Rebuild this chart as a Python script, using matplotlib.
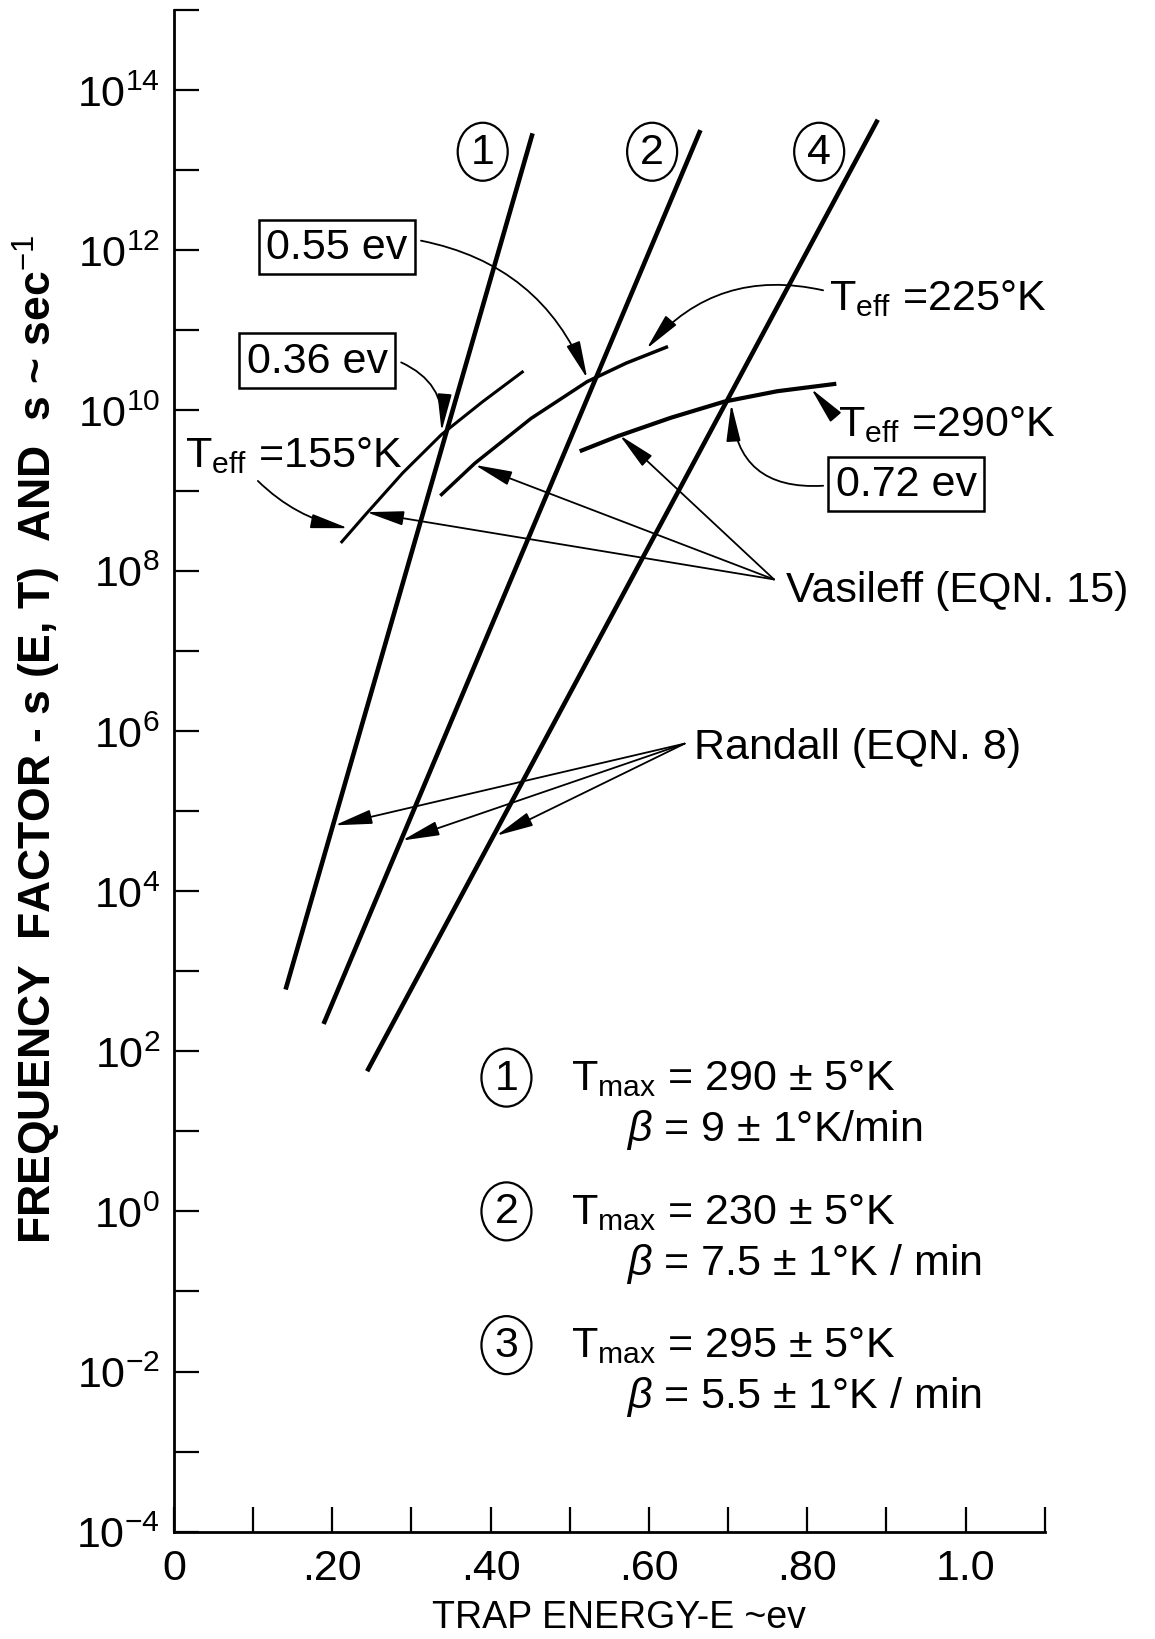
import matplotlib
matplotlib.use('Agg')
import matplotlib.pyplot as plt
import matplotlib.transforms as mtransforms
from matplotlib.patches import Ellipse
import numpy as np

fam = 'Liberation Sans'
plt.rcParams['font.family'] = [fam, 'DejaVu Sans']
plt.rcParams['mathtext.fontset'] = 'custom'
plt.rcParams['mathtext.rm'] = fam
plt.rcParams['mathtext.it'] = fam + ':italic'
plt.rcParams['mathtext.bf'] = fam + ':bold'

# ---- values: E in eV, log10(s) ----
E_randall1 = [0.141, 0.453]
logs_randall1 = [2.77, 13.46]
E_randall2 = [0.189, 0.665]
logs_randall2 = [2.34, 13.50]
E_randall4 = [0.244, 0.889]
logs_randall4 = [1.75, 13.63]

E_v155 = [0.212, 0.242, 0.289, 0.338, 0.390, 0.440]
logs_v155 = [8.36, 8.70, 9.22, 9.70, 10.11, 10.48]
E_v225 = [0.338, 0.380, 0.451, 0.522, 0.571, 0.622]
logs_v225 = [8.95, 9.34, 9.90, 10.36, 10.59, 10.79]
E_v290 = [0.515, 0.561, 0.628, 0.695, 0.762, 0.834]
logs_v290 = [9.50, 9.68, 9.91, 10.11, 10.24, 10.33]

curve_labels = ['1', '2', '4']
curve_label_E = [0.390, 0.604, 0.815]
curve_label_logs = 13.23

xtick_vals = np.round(np.arange(0, 1.11, 0.1), 2)
xtick_text = ['0', '', '.20', '', '.40', '', '.60', '', '.80', '', '1.0', '']
ytick_exp = list(range(-4, 16))

legend_nums = ['1', '2', '3']
legend_tmax = ['290 ± 5°K', '230 ± 5°K', '295 ± 5°K']
legend_beta = ['9 ± 1°K/min', '7.5 ± 1°K / min', '5.5 ± 1°K / min']
legend_logs = [1.67, 0.0, -1.67]


def S(v):
    return 10.0 ** np.asarray(v)


fig = plt.figure(figsize=(11.55, 16.4), dpi=100)
ax = fig.add_axes([0.1506, 0.0654, 0.754, 0.9279])
ax.set_yscale('log')
ax.set_xlim(0, 1.1)
ax.set_ylim(1e-4, 1e15)

for sp in ['top', 'right']:
    ax.spines[sp].set_visible(False)
for sp in ['left', 'bottom']:
    ax.spines[sp].set_linewidth(2.0)

ax.set_xticks(xtick_vals)
ax.set_xticklabels(xtick_text)
ax.set_yticks([10.0 ** e for e in ytick_exp])
ax.set_yticklabels(['$10^{%d}$' % e if e % 2 == 0 and e < 15 else '' for e in ytick_exp])
ax.minorticks_off()
ax.tick_params(direction='in', length=18, width=1.6, labelsize=31)
ax.tick_params(axis='x', pad=12)
ax.tick_params(axis='y', pad=10)

# Randall lines
for E, ls in [(E_randall1, logs_randall1), (E_randall2, logs_randall2), (E_randall4, logs_randall4)]:
    ax.plot(E, S(ls), color='black', lw=3.3, solid_capstyle='butt')

# Vasileff curves
ax.plot(E_v155, S(logs_v155), color='black', lw=2.2)
ax.plot(E_v225, S(logs_v225), color='black', lw=2.5)
ax.plot(E_v290, S(logs_v290), color='black', lw=3.0)

fs = 31


def circled(x, ly, txt):
    ax.text(x, 10 ** ly, txt, ha='center', va='center', fontsize=fs)
    tr = fig.dpi_scale_trans + mtransforms.ScaledTranslation(x, 10 ** ly, ax.transData)
    ax.add_patch(Ellipse((0, 0), 0.50, 0.58, transform=tr, fill=False, lw=1.6, color='black'))


for lab, x in zip(curve_labels, curve_label_E):
    circled(x, curve_label_logs, lab)


def arrow(start, tip, rad=0.0):
    ax.annotate('', xy=(tip[0], 10 ** tip[1]), xytext=(start[0], 10 ** start[1]),
                arrowprops=dict(arrowstyle='-|>,head_length=1.15,head_width=0.22',
                                color='black', lw=1.3, shrinkA=0, shrinkB=0,
                                mutation_scale=20,
                                connectionstyle='arc3,rad=%g' % rad))


box = dict(boxstyle='square,pad=0.17', fc='white', ec='black', lw=1.8)

ax.text(0.206, 10 ** 12.04, '0.55 ev', ha='center', va='center', fontsize=fs, bbox=box)
arrow((0.312, 12.12), (0.522, 10.40), rad=-0.27)

ax.text(0.181, 10 ** 10.62, '0.36 ev', ha='center', va='center', fontsize=fs, bbox=box)
arrow((0.287, 10.60), (0.338, 9.74), rad=-0.35)

ax.text(0.925, 10 ** 9.08, '0.72 ev', ha='center', va='center', fontsize=fs, bbox=box)
arrow((0.820, 9.06), (0.704, 10.08), rad=-0.5)

ax.text(0.014, 10 ** 9.31, 'T$_{\\rm eff}$ =155°K', ha='left', va='baseline', fontsize=fs)
arrow((0.106, 9.12), (0.220, 8.53), rad=0.15)

ax.text(0.828, 10 ** 11.27, 'T$_{\\rm eff}$ =225°K', ha='left', va='baseline', fontsize=fs)
arrow((0.820, 11.50), (0.597, 10.77), rad=0.3)

ax.text(0.839, 10 ** 9.69, 'T$_{\\rm eff}$ =290°K', ha='left', va='baseline', fontsize=fs)
arrow((0.832, 9.96), (0.805, 10.27))

ax.text(0.773, 10 ** 7.76, 'Vasileff (EQN. 15)', ha='left', va='center', fontsize=fs)
for tip in [(0.243, 8.73), (0.380, 9.32), (0.563, 9.69)]:
    arrow((0.758, 7.89), tip)

ax.text(0.657, 10 ** 5.80, 'Randall (EQN. 8)', ha='left', va='center', fontsize=fs)
for tip in [(0.203, 4.82), (0.288, 4.63), (0.407, 4.69)]:
    arrow((0.645, 5.84), tip)

# legend block
for num, tm, b, ly in zip(legend_nums, legend_tmax, legend_beta, legend_logs):
    circled(0.42, ly, num)
    ax.text(0.502, 10 ** ly, 'T$_{\\rm max}$ = ' + tm, ha='left', va='center', fontsize=fs)
    ax.text(0.571, 10 ** (ly - 0.64), '$\\beta$ = ' + b, ha='left', va='center', fontsize=fs)

fig.text(0.0317, 0.549, 'FREQUENCY  FACTOR - s (E, T)  AND  s ~ sec$^{-1}$',
         rotation=90, ha='center', va='center', fontsize=32, fontweight='bold')
fig.text(0.536, 0.0134, 'TRAP ENERGY-E ~ev', ha='center', va='center', fontsize=27)

fig.savefig('out.png', dpi=100)
